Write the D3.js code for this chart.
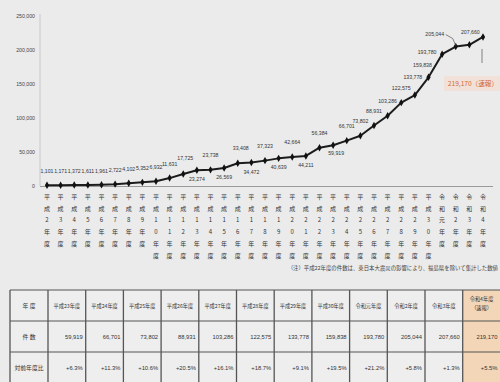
<!DOCTYPE html>
<html lang="ja">
<head>
<meta charset="utf-8">
<script src="https://cdn.jsdelivr.net/npm/d3@7/dist/d3.min.js"></script>
<style>
  html, body { margin: 0; padding: 0; background: #ebebeb; }
  svg { display: block; font-family: "Noto Sans CJK JP", "Noto Sans", sans-serif; }
</style>
</head>
<body>
<svg id="chart" width="500" height="382"></svg>
<script>
// 児童相談所での児童虐待相談対応件数の推移
const years = [
  "平成2年度", "平成3年度", "平成4年度", "平成5年度", "平成6年度", "平成7年度",
  "平成8年度", "平成9年度", "平成10年度", "平成11年度", "平成12年度", "平成13年度",
  "平成14年度", "平成15年度", "平成16年度", "平成17年度", "平成18年度", "平成19年度",
  "平成20年度", "平成21年度", "平成22年度", "平成23年度", "平成24年度", "平成25年度",
  "平成26年度", "平成27年度", "平成28年度", "平成29年度", "平成30年度", "令和元年度",
  "令和2年度", "令和3年度", "令和4年度"
];
const counts = [
  1101, 1171, 1372, 1611, 1961, 2722, 4102, 5352, 6932, 11631, 17725, 23274,
  23738, 26569, 33408, 34472, 37323, 40639, 42664, 44211, 56384, 59919, 66701, 73802,
  88931, 103286, 122575, 133778, 159838, 193780, 205044, 207660, 219170
];
const yTicks = [0, 50000, 100000, 150000, 200000, 250000];

// 表
const tableYears = [
  "平成23年度", "平成24年度", "平成25年度", "平成26年度", "平成27年度", "平成28年度",
  "平成29年度", "平成30年度", "令和元年度", "令和2年度", "令和3年度", "令和4年度"
];
const tableCounts = counts.slice(-12);
const tableRatios = [
  "+6.3%", "+11.3%", "+10.6%", "+20.5%", "+16.1%", "+18.7%",
  "+9.1%", "+19.5%", "+21.2%", "+5.8%", "+1.3%", "+5.5%"
];
const rowLabels = ["年 度", "件 数", "対前年度比"];
const provisionalNote = "（速報）";
const footNote = "（注）平成22年度の件数は、東日本大震災の影響により、福島県を除いて集計した数値";

const svg = d3.select("#chart");
const fmt = d3.format(",");

const x = d3.scalePoint().domain(years).range([47, 483]);
const y = d3.scaleLinear().domain([0, 250000]).range([186, 16]);

// 軸
svg.append("line").attr("x1", 40).attr("x2", 40).attr("y1", 14).attr("y2", 186)
  .attr("stroke", "#c8c8c8").attr("stroke-width", 1);
svg.append("line").attr("x1", 40).attr("x2", 493).attr("y1", y(0) + 0.5).attr("y2", y(0) + 0.5)
  .attr("stroke", "#9a9a9a").attr("stroke-width", 1);

const yAxis = svg.append("g").attr("transform", "translate(40,0)")
  .call(d3.axisLeft(y).tickValues(yTicks).tickFormat(fmt).tickSize(0).tickPadding(5));
yAxis.select(".domain").remove();
yAxis.selectAll("text").attr("font-size", 5.2).attr("fill", "#444")
  .attr("font-family", "'Liberation Sans', sans-serif");

// 縦書きの年度ラベル
const xl = svg.append("g");
years.forEach(yr => {
  const chars = Array.from(yr);
  chars.forEach((c, j) => {
    xl.append("text")
      .attr("x", x(yr))
      .attr("y", 199 + j * 11.7)
      .attr("text-anchor", "middle")
      .attr("font-size", 6)
      .attr("fill", "#333")
      .text(c);
  });
});

// 折れ線
const pts = years.map((yr, i) => ({ yr, v: counts[i], i }));
svg.append("path").datum(pts)
  .attr("fill", "none").attr("stroke", "#1c1c1c").attr("stroke-width", 2)
  .attr("stroke-linejoin", "round")
  .attr("d", d3.line().x(d => x(d.yr)).y(d => y(d.v)));

svg.append("g").selectAll("path").data(pts).join("path")
  .attr("transform", d => `translate(${x(d.yr)},${y(d.v)})`)
  .attr("d", d3.symbol(d3.symbolDiamond, 16))
  .attr("fill", "#111");

// データラベルの配置（点からのずれ）
function labelOffset(i) {
  if (i < 10) return [0, -12];
  const custom = {
    10: [2, -14], 14: [3, -13], 21: [3, 10],
    27: [-2, -16], 28: [-6, -10], 29: [-15, 0]
  };
  if (custom[i]) return custom[i];
  if (i <= 21) return (i % 2 === 0) ? [0, -13] : [0, 11];
  return [0, -13];
}

const labels = svg.append("g")
  .attr("font-size", 5.2).attr("fill", "#333")
  .attr("font-family", "'Liberation Sans', sans-serif")
  .attr("text-anchor", "middle");

pts.forEach(d => {
  if (d.i >= 30) return;
  const [dx, dy] = labelOffset(d.i);
  labels.append("text")
    .attr("x", x(d.yr) + dx)
    .attr("y", y(d.v) + dy)
    .text(fmt(d.v));
});

// 令和2年度（引出線）
const p30 = pts[30];
labels.append("text").attr("x", x(p30.yr) - 21).attr("y", y(p30.v) - 11).text(fmt(p30.v));
svg.append("polyline")
  .attr("points", `${x(p30.yr) - 10},${y(p30.v) - 12} ${x(p30.yr) - 3},${y(p30.v) - 8} ${x(p30.yr)},${y(p30.v) - 1}`)
  .attr("fill", "none").attr("stroke", "#555").attr("stroke-width", 0.7);

// 令和3年度
const p31 = pts[31];
labels.append("text").attr("x", x(p31.yr) + 1).attr("y", y(p31.v) - 11).text(fmt(p31.v));

// 令和4年度（速報）
const p32 = pts[32];
svg.append("line").attr("x1", x(p32.yr) - 1).attr("x2", x(p32.yr) - 1)
  .attr("y1", y(p32.v) + 12).attr("y2", y(p32.v) + 26)
  .attr("stroke", "#666").attr("stroke-width", 0.8);
svg.append("rect").attr("x", 444).attr("y", 76).attr("width", 60).attr("height", 15)
  .attr("fill", "#f2e1d8");
svg.append("text").attr("x", 498).attr("y", 86).attr("text-anchor", "end")
  .attr("font-size", 6.6).attr("fill", "#d0693a")
  .text(fmt(p32.v) + provisionalNote);

// 注記
svg.append("text").attr("x", 498).attr("y", 270).attr("text-anchor", "end")
  .attr("font-size", 5.4).attr("fill", "#444").text(footNote);

// 表
const tb = svg.append("g");
const colX0 = 48, colW = 37.7, headX0 = 10;
const rowY = [290, 321, 352, 383];
const lastX = colX0 + colW * 11;

tb.append("rect").attr("x", headX0).attr("y", rowY[0])
  .attr("width", 500 - headX0 + 5).attr("height", rowY[3] - rowY[0])
  .attr("fill", "#eeeeee");
tb.append("rect").attr("x", lastX).attr("y", rowY[0])
  .attr("width", colW + 5).attr("height", rowY[3] - rowY[0])
  .attr("fill", "#f3d6b8");

// 罫線
rowY.forEach(ry => {
  tb.append("line").attr("x1", headX0).attr("x2", 505).attr("y1", ry).attr("y2", ry)
    .attr("stroke", "#555").attr("stroke-width", 1.1);
});
const vx = [headX0, ...d3.range(12).map(k => colX0 + colW * k)];
vx.forEach(vxi => {
  tb.append("line").attr("x1", vxi).attr("x2", vxi).attr("y1", rowY[0]).attr("y2", rowY[3])
    .attr("stroke", "#555").attr("stroke-width", 1.3);
});

rowLabels.forEach((t, r) => {
  tb.append("text").attr("x", (headX0 + colX0) / 2).attr("y", (rowY[r] + rowY[r + 1]) / 2 + 2)
    .attr("text-anchor", "middle").attr("font-size", 5.8).attr("fill", "#333").text(t);
});

tableYears.forEach((t, k) => {
  const cx = colX0 + colW * k + colW / 2;
  const right = colX0 + colW * (k + 1) - 3;
  if (k === tableYears.length - 1) {
    tb.append("text").attr("x", cx).attr("y", 300.5).attr("text-anchor", "middle")
      .attr("font-size", 5.2).attr("fill", "#333").text(t);
    tb.append("text").attr("x", cx).attr("y", 310).attr("text-anchor", "middle")
      .attr("font-size", 5.2).attr("fill", "#333").text(provisionalNote);
  } else {
    tb.append("text").attr("x", cx).attr("y", 307.5).attr("text-anchor", "middle")
      .attr("font-size", 5.2).attr("fill", "#333").text(t);
  }
  tb.append("text").attr("x", right).attr("y", 338.5).attr("text-anchor", "end")
    .attr("font-size", 5.8).attr("fill", "#333")
    .attr("font-family", "'Liberation Sans', sans-serif")
    .text(fmt(tableCounts[k]));
  tb.append("text").attr("x", right).attr("y", 369.5).attr("text-anchor", "end")
    .attr("font-size", 5.8).attr("fill", "#333")
    .attr("font-family", "'Liberation Sans', sans-serif")
    .text(tableRatios[k]);
});
</script>
</body>
</html>
